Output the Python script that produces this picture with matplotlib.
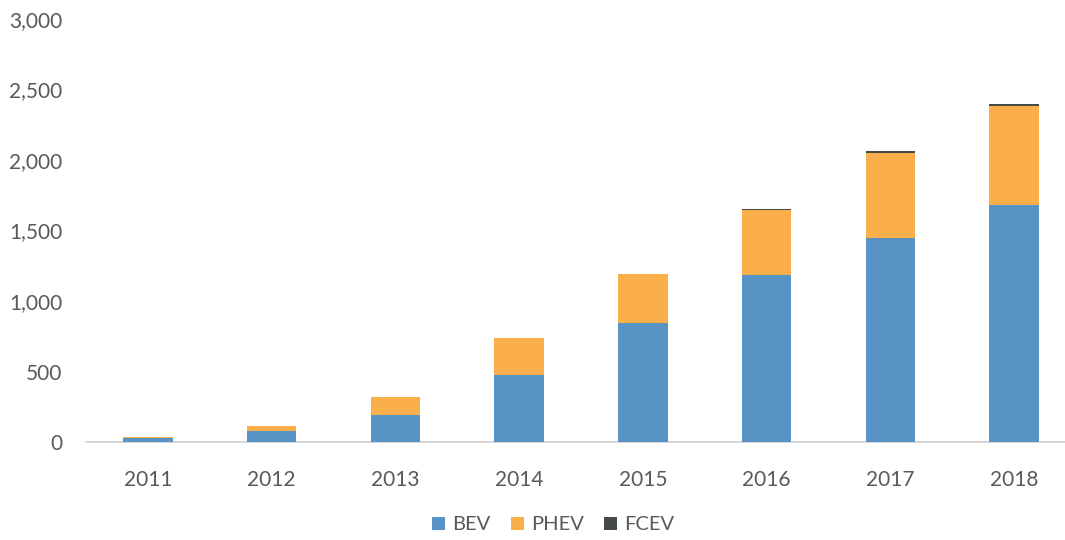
import matplotlib
matplotlib.use("Agg")
import matplotlib.pyplot as plt
from matplotlib.ticker import FuncFormatter
import numpy as np

years = ["2011", "2012", "2013", "2014", "2015", "2016", "2017", "2018"]
bev = [30, 76, 193, 475, 846, 1184, 1447, 1681]
phev = [3, 37, 126, 263, 345, 461, 600, 700]
fcev = [0, 0, 0, 0, 2, 8, 17, 18]

plt.rcParams['font.family'] = ['Lato', 'DejaVu Sans']

fig = plt.figure(figsize=(10.65, 5.4), dpi=100)
ax = fig.add_axes([86/1065, 98/540, (1076-86)/1065, (442-19)/540])

x = np.arange(len(years))
w = 0.4
c_bev = "#5893c5"
c_phev = "#fbaf4a"
c_fcev = "#444a48"
ax.bar(x, bev, w, color=c_bev, label="BEV", zorder=3)
ax.bar(x, phev, w, bottom=bev, color=c_phev, label="PHEV", zorder=3)
bottom2 = [b + p for b, p in zip(bev, phev)]
ax.bar(x, fcev, w, bottom=bottom2, color=c_fcev, label="FCEV", zorder=3)

ax.set_xlim(-0.5, len(years) - 0.5)
ax.set_ylim(0, 3000)
ax.set_yticks(range(0, 3001, 500))
ax.yaxis.set_major_formatter(FuncFormatter(lambda v, p: f"{int(v):,}"))
ax.set_xticks(x)
ax.set_xticklabels(years)
for s in ["top", "right", "left"]:
    ax.spines[s].set_visible(False)
ax.spines["bottom"].set_color("#d0d0d0")
ax.spines["bottom"].set_linewidth(1.2)
ax.tick_params(axis="both", length=0, labelsize=15, colors="#595959")
ax.tick_params(axis="y", pad=17)
ax.tick_params(axis="x", pad=20)

ax.legend(loc="center", bbox_to_anchor=(553/1065, 15/540), bbox_transform=fig.transFigure,
          ncol=3, frameon=False, fontsize=14.5, handlelength=0.65, handleheight=0.65,
          columnspacing=1.0, handletextpad=0.35, labelcolor="#595959")

fig.savefig("out.png", dpi=100)
